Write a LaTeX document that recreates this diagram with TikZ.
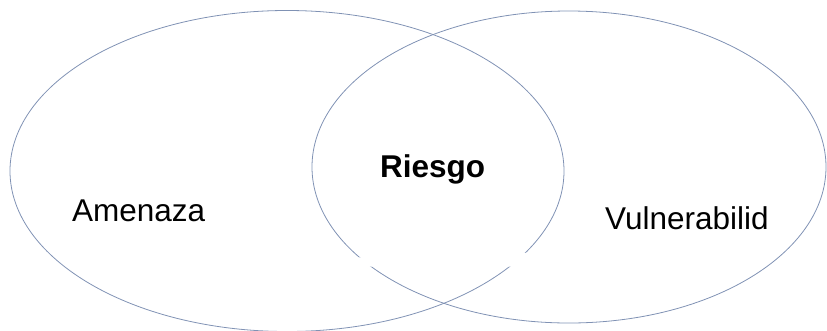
\documentclass[tikz,border=0pt]{standalone}
\usepackage{fontspec}
\setmainfont{Liberation Sans}
\usetikzlibrary{shapes.geometric, positioning}
\definecolor{setline}{RGB}{128,146,180}

\begin{document}
\begin{tikzpicture}[x=1pt, y=-1pt, set/.style={ellipse, draw=setline, line width=0.8pt, inner sep=0pt},
  lbl/.style={font=\fontsize{31.5}{36}\selectfont, inner sep=0pt, anchor=base west}]
  \useasboundingbox (0,0) rectangle (827,330);
  \node[set, minimum width=554pt, minimum height=321pt] (A) at (287,171) {};
  \node[set, minimum width=514pt, minimum height=312pt] (V) at (569,167) {};
  % white patch over the lower crossing
  \fill[white] (354,257.5) -- (540,252.5) -- (540,266.5) -- (354,266.5) -- cycle;
  \node[lbl] (amenaza) at (72,221) {Amenaza};
  \node[lbl, font=\fontsize{31.5}{36}\selectfont\bfseries] (riesgo) at (380,177) {Riesgo};
  \node[lbl] (vuln) at (605,229) {Vulnerabilid};
\end{tikzpicture}
\end{document}
